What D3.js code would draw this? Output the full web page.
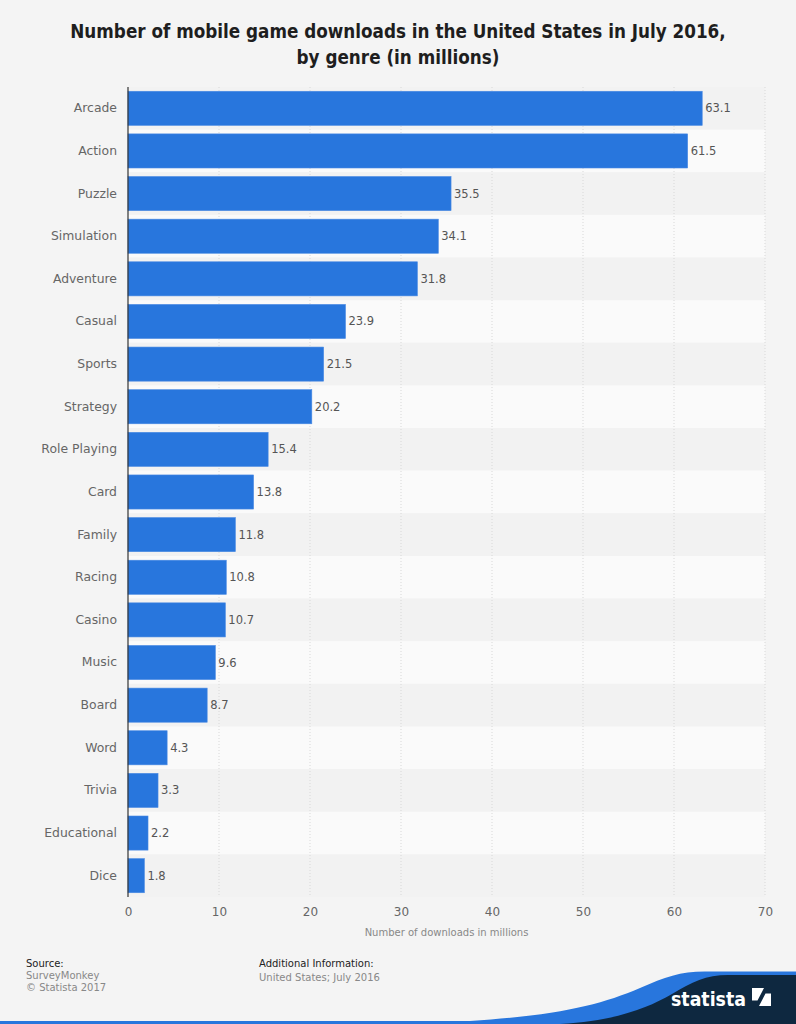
<!DOCTYPE html>
<html><head><meta charset="utf-8">
<script src="https://cdn.jsdelivr.net/npm/d3@7"></script>
<style>
html,body{margin:0;padding:0;background:#f4f4f4;}
svg{display:block;font-family:"DejaVu Sans",sans-serif;}
</style></head>
<body>
<svg id="chart" width="796" height="1024"></svg>
<script>
const categories = ["Arcade","Action","Puzzle","Simulation","Adventure","Casual","Sports","Strategy","Role Playing","Card","Family","Racing","Casino","Music","Board","Word","Trivia","Educational","Dice"];
const values = [63.1,61.5,35.5,34.1,31.8,23.9,21.5,20.2,15.4,13.8,11.8,10.8,10.7,9.6,8.7,4.3,3.3,2.2,1.8];
const xTicks = [0,10,20,30,40,50,60,70];
const titleLines = ["Number of mobile game downloads in the United States in July 2016,","by genre (in millions)"];
const xAxisLabel = "Number of downloads in millions";

const svg = d3.select("#chart");
const W = 796, H = 1024;
const pLeft = 128, pRight = 765, pTop = 87, pBottom = 897;

svg.append("rect").attr("width",W).attr("height",H).attr("fill","#f4f4f4");

// title
svg.append("g").selectAll("text").data(titleLines).join("text")
  .attr("x", W/2).attr("y",(d,i)=>38+i*26)
  .attr("text-anchor","middle").attr("font-size","18.7px").attr("font-weight","bold")
  .attr("font-family","'DejaVu Sans Condensed', 'DejaVu Sans', sans-serif")
  .style("font-stretch","condensed")
  .attr("fill","#1e1e1e").text(d=>d);

const x = d3.scaleLinear().domain([0,70]).range([pLeft,pRight]);
const y = d3.scaleBand().domain(categories).range([pTop,pBottom]).paddingInner(0.2).paddingOuter(0.1);
const yRow = d3.scaleBand().domain(categories).range([pTop,pBottom]);

// stripes
svg.append("g").selectAll("rect").data(categories).join("rect")
  .attr("x",pLeft).attr("width",pRight-pLeft)
  .attr("y",d=>yRow(d)).attr("height",yRow.bandwidth())
  .attr("fill",(d,i)=> i%2===0 ? "#f2f2f2" : "#fafafa");

// gridlines
svg.append("g").selectAll("line").data(xTicks.slice(1)).join("line")
  .attr("x1",d=>x(d)).attr("x2",d=>x(d)).attr("y1",pTop).attr("y2",pBottom)
  .attr("stroke","#d8d8d8").attr("stroke-dasharray","1,2").attr("stroke-width",1);

// bars
svg.append("g").selectAll("rect").data(values).join("rect")
  .attr("x",x(0)).attr("y",(d,i)=>y(categories[i]))
  .attr("width",d=>x(d)-x(0)).attr("height",y.bandwidth())
  .attr("fill","#2876dd").attr("stroke","#4a8ae3").attr("stroke-width",0.6);

// value labels
svg.append("g").selectAll("text").data(values).join("text")
  .attr("x",d=>x(d)+3).attr("y",(d,i)=>y(categories[i])+y.bandwidth()/2)
  .attr("dy","0.35em").attr("font-size","11.5px").attr("fill","#555")
  .text(d=>d.toFixed(1));

// y axis
const yAxis = d3.axisLeft(yRow).tickSize(0).tickPadding(11);
const gy = svg.append("g").attr("transform",`translate(${pLeft},0)`).call(yAxis);
gy.select(".domain").remove();
gy.selectAll("text").attr("font-size","12.4px").attr("fill","#666").attr("font-family","DejaVu Sans, sans-serif");
svg.append("line").attr("x1",pLeft).attr("x2",pLeft).attr("y1",pTop).attr("y2",pBottom)
  .attr("stroke","#333").attr("stroke-width",1.2);

// x axis
const xAxis = d3.axisBottom(x).tickValues(xTicks).tickSize(0).tickPadding(10).tickFormat(d3.format("d"));
const gx = svg.append("g").attr("transform",`translate(0,${pBottom})`).call(xAxis);
gx.select(".domain").remove();
gx.selectAll("text").attr("font-size","12px").attr("fill","#666").attr("font-family","DejaVu Sans, sans-serif");

svg.append("text").attr("x",(pLeft+pRight)/2).attr("y",936).attr("text-anchor","middle")
  .attr("font-size","10px").attr("fill","#888").text(xAxisLabel);

// footer
const ft = svg.append("g").attr("font-size","10px");
ft.append("text").attr("x",26).attr("y",967).attr("fill","#222").text("Source:");
ft.append("text").attr("x",26).attr("y",979).attr("fill","#888").text("SurveyMonkey");
ft.append("text").attr("x",26).attr("y",991).attr("fill","#888").text("© Statista 2017");
ft.append("text").attr("x",259).attr("y",967).attr("fill","#222").text("Additional Information:");
ft.append("text").attr("x",259).attr("y",981).attr("fill","#888").text("United States; July 2016");

// logo
svg.append("rect").attr("x",0).attr("y",1021).attr("width",W).attr("height",3).attr("fill","#2876dd");
svg.append("path").attr("d","M460,1024 L470,1021 C560,1015 600,1005 640,988 C665,977 680,971.5 705,971.5 L796,971.5 L796,1024 Z").attr("fill","#2876dd");
svg.append("path").attr("d","M560,1024 C615,1021 648,1008 672,994 C692,982 706,975 728,975 L796,975 L796,1024 Z").attr("fill","#0e2840");
svg.append("text").attr("x",671).attr("y",1006).attr("font-size","20px").attr("font-weight","bold")
  .attr("font-family","'DejaVu Sans Condensed', 'DejaVu Sans', sans-serif").style("font-stretch","condensed")
  .attr("textLength",75).attr("lengthAdjust","spacingAndGlyphs")
  .attr("fill","#fff").text("statista");
const lg = svg.append("g").attr("transform","translate(752,988)");
lg.append("rect").attr("width",19).attr("height",18).attr("fill","#fff");
lg.append("path").attr("d","M0,18 L7,18 L13.5,5.5 L19,5.5 L19,0 L12,0 L5.5,12.5 L0,12.5 Z").attr("fill","#0e2840");
</script>
</body></html>
